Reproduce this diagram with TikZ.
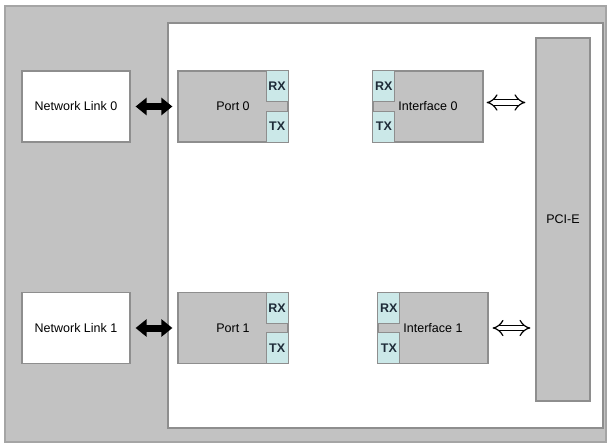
\documentclass[tikz,border=0pt]{standalone}
\usepackage{fontspec}
\setmainfont{Liberation Sans}
\usepackage{tikz}
\usetikzlibrary{positioning}
\usetikzlibrary{arrows.meta}
\definecolor{boxgray}{HTML}{C2C2C2}
\definecolor{edgegray}{HTML}{8E8E8E}
\definecolor{rxcyan}{HTML}{CBE8E8}
\definecolor{rxtext}{HTML}{1E2B38}
\tikzstyle{lnk} = [rectangle, text centered, minimum width=108pt, minimum height=71pt, line width=1.2pt, draw=edgegray, fill=white, font=\fontsize{12.5}{14}\selectfont]
\tikzstyle{blk} = [rectangle, text centered, minimum width=110pt, minimum height=71pt, line width=1.2pt, draw=edgegray, fill=boxgray, font=\fontsize{12.5}{14}\selectfont]
\tikzstyle{rxtx} = [rectangle, inner sep=0pt, minimum width=22pt, minimum height=31pt, line width=1pt, draw=edgegray, fill=rxcyan, text=rxtext, font=\fontsize{12.5}{14}\selectfont\bfseries]
\tikzstyle{bus} = [rectangle, text centered, minimum width=54pt, minimum height=363pt, line width=1.2pt, draw=edgegray, fill=boxgray, font=\fontsize{12.5}{14}\selectfont]
\tikzstyle{fat} = [line width=7pt, {Triangle[length=11pt,width=17pt]}-{Triangle[length=11pt,width=17pt]}]
\tikzstyle{hollow} = [double=white, double distance=4.5pt, line width=1.2pt, {Implies[length=8pt,width=18pt]}-{Implies[length=8pt,width=18pt]}]

\begin{document}
\begin{tikzpicture}[x=1pt, y=-1pt]
    \useasboundingbox (0,0) rectangle (607,445);
    \draw[fill=boxgray, draw=edgegray!80, line width=2pt] (5,6) rectangle (606,442);
    \draw[fill=white, draw=edgegray, line width=1.2pt] (168,23) rectangle (603,428);
    \node (nl0) [lnk] at (76,106.5) {Network Link 0};
    \node (nl1) [lnk] at (76,328) {Network Link 1};
    \node (port0) [blk] at (233,106.5) {Port 0};
    \node (port1) [blk] at (233,328) {Port 1};
    \node (if0) [blk] at (428,106.5) {Interface 0};
    \node (if1) [blk] at (433,328) {Interface 1};
    \node (pci) [bus] at (563,219.5) {PCI-E};
    \node (port0rx) [rxtx, anchor=north east] at (port0.north east) {RX};
    \node (port0tx) [rxtx, anchor=south east] at (port0.south east) {TX};
    \node (port1rx) [rxtx, anchor=north east] at (port1.north east) {RX};
    \node (port1tx) [rxtx, anchor=south east] at (port1.south east) {TX};
    \node (if0rx) [rxtx, anchor=north west] at (if0.north west) {RX};
    \node (if0tx) [rxtx, anchor=south west] at (if0.south west) {TX};
    \node (if1rx) [rxtx, anchor=north west] at (if1.north west) {RX};
    \node (if1tx) [rxtx, anchor=south west] at (if1.south west) {TX};
    \draw[fat, shorten <=5pt, shorten >=5pt] (nl0) -- (port0);
    \draw[fat, shorten <=5pt, shorten >=5pt] (nl1) -- (port1);
    \draw[hollow, shorten <=3pt, shorten >=10pt] ([yshift=4pt]if0.east) -- ([yshift=4pt]if0.east -| pci.west);
    \draw[hollow, shorten <=4pt, shorten >=5pt] (if1.east) -- (if1.east -| pci.west);
\end{tikzpicture}
\end{document}
